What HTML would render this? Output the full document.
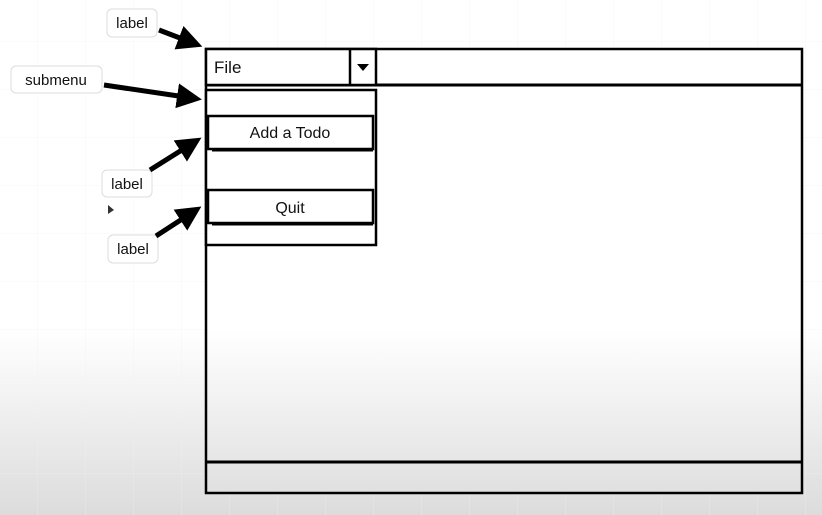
<!DOCTYPE html>
<html><head><meta charset="utf-8"><style>
html,body{margin:0;padding:0;width:822px;height:515px;overflow:hidden}
body{background:linear-gradient(#fff 0,#fff 330px,#dcdcdc 515px);font-family:"Liberation Sans",sans-serif}
svg{position:absolute;left:0;top:0}
</style></head><body>
<svg width="822" height="515" viewBox="0 0 822 515">
<defs>
<pattern id="grid" width="48" height="48" patternUnits="userSpaceOnUse" x="-10" y="-6">
<path d="M48 0V48M0 48H48" stroke="#f0f0f0" stroke-width="1" fill="none"/>
</pattern>
<linearGradient id="winbg" gradientUnits="userSpaceOnUse" x1="0" y1="0" x2="0" y2="515">
<stop offset="0" stop-color="#fff"/><stop offset="0.64" stop-color="#fff"/><stop offset="1" stop-color="#dcdcdc"/>
</linearGradient>
<marker id="ah" markerWidth="5" markerHeight="5" refX="3" refY="2.5" orient="auto"><path d="M0,0 L5,2.5 L0,5 Z" fill="#000"/></marker>
</defs>
<rect width="822" height="515" fill="url(#grid)" opacity="0.6"/>
<g stroke="#000">
<rect x="206" y="49" width="596" height="444" fill="url(#winbg)" stroke-width="2.5"/>
<line x1="206" y1="85" x2="802" y2="85" stroke-width="3"/>
<line x1="206" y1="462" x2="802" y2="462" stroke-width="3"/>
</g>
<g>
<rect x="206" y="49" width="170" height="36" fill="#fff" stroke="#000" stroke-width="2.5"/>
<line x1="350" y1="49" x2="350" y2="85" stroke="#000" stroke-width="2.5"/>
<path d="M357 64 L369 64 L363 71 Z" fill="#000"/>
<text x="214" y="73" font-size="17" fill="#111">File</text>
</g>
<g>
<rect x="206" y="90" width="170" height="155" fill="#fff" stroke="#000" stroke-width="2.5"/>
<rect x="208" y="116" width="165" height="33" fill="#fff" stroke="#000" stroke-width="2.5"/>
<line x1="212" y1="150" x2="373" y2="150" stroke="#000" stroke-width="3"/>
<text x="290" y="138" font-size="16" text-anchor="middle" fill="#111">Add a Todo</text>
<rect x="208" y="190" width="165" height="33" fill="#fff" stroke="#000" stroke-width="2.5"/>
<line x1="212" y1="224" x2="373" y2="224" stroke="#000" stroke-width="3"/>
<text x="290" y="213" font-size="16" text-anchor="middle" fill="#111">Quit</text>
</g>
<g>
<rect x="107" y="9" width="50" height="28" rx="5" fill="#fff" stroke="#ddd"/>
<text x="132" y="28" font-size="15" text-anchor="middle" fill="#111">label</text>
</g>
<g>
<rect x="11" y="66" width="91" height="27" rx="5" fill="#fff" stroke="#ddd"/>
<text x="56" y="85" font-size="15" text-anchor="middle" fill="#111">submenu</text>
</g>
<g>
<rect x="102" y="170" width="50" height="27" rx="5" fill="#fff" stroke="#ddd"/>
<text x="127" y="189" font-size="15" text-anchor="middle" fill="#111">label</text>
</g>
<g>
<rect x="108" y="235" width="50" height="28" rx="5" fill="#fff" stroke="#ddd"/>
<text x="133" y="254" font-size="15" text-anchor="middle" fill="#111">label</text>
</g>
<g stroke="#000" stroke-width="5" marker-end="url(#ah)" fill="none">
<line x1="159" y1="30" x2="193" y2="43"/>
<line x1="104" y1="85" x2="192" y2="98"/>
<line x1="150" y1="170" x2="193" y2="143"/>
<line x1="156" y1="236" x2="193" y2="212"/>
</g>
<path d="M108 205 L108 214 L114 210 Z" fill="#333"/>
</svg>
</body></html>
